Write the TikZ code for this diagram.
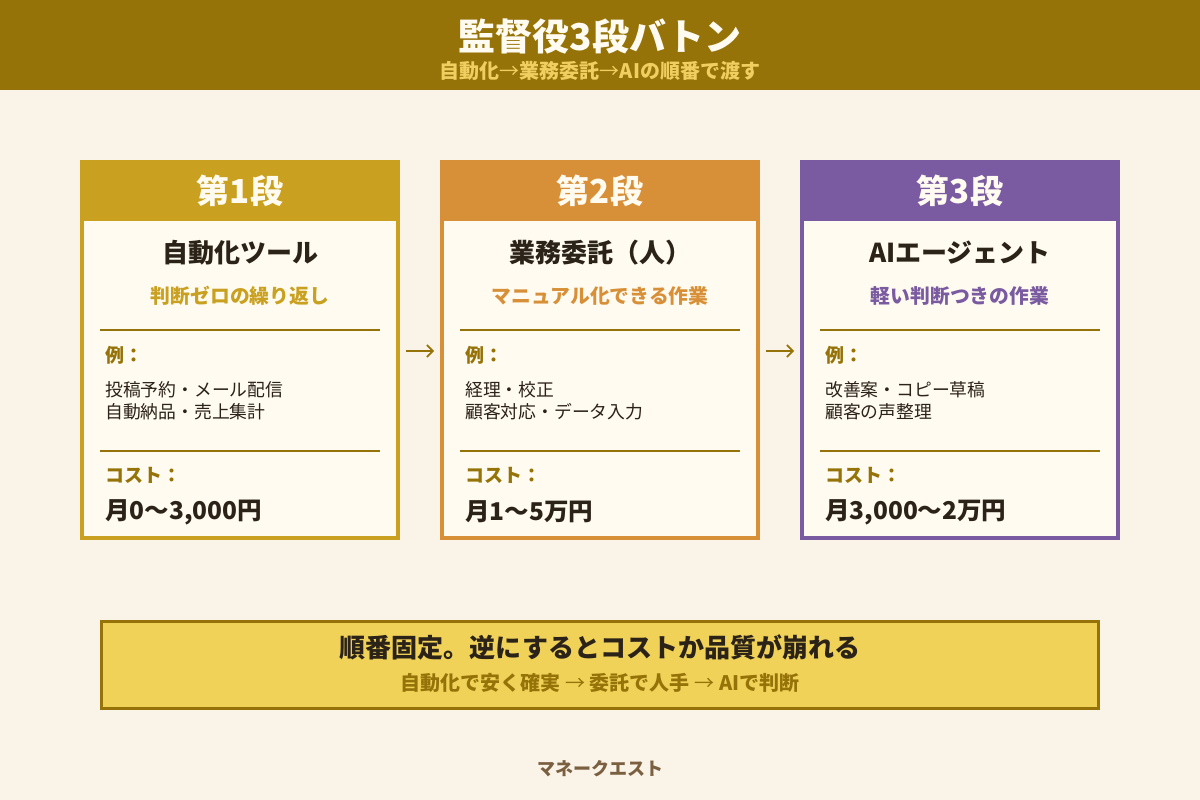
\documentclass[tikz,border=0pt]{standalone}
\usepackage{fontspec}
\setmainfont{Noto Sans CJK JP}
\usetikzlibrary{arrows.meta}

\definecolor{bgcream}{RGB}{250,243,232}
\definecolor{bodycream}{RGB}{255,251,240}
\definecolor{bandgold}{RGB}{149,115,8}
\definecolor{subgold}{RGB}{240,206,96}
\definecolor{stepgold}{RGB}{201,160,32}
\definecolor{steporange}{RGB}{216,144,56}
\definecolor{steppurple}{RGB}{122,90,160}
\definecolor{inkdark}{RGB}{43,34,24}
\definecolor{notebox}{RGB}{240,210,88}
\definecolor{footbrown}{RGB}{122,95,64}

\newcommand{\thinarrow}{{\mdseries →}}

\begin{document}
\begin{tikzpicture}[x=1pt,y=-1pt,
  card/.style={draw, line width=4pt, fill=bodycream, minimum width=316pt, minimum height=376pt, inner sep=0pt},
  cardhead/.style={fill, minimum width=320pt, minimum height=60pt, inner sep=0pt, text=bodycream, font=\fontsize{33}{36}\selectfont\bfseries},
  cardtitle/.style={text=inkdark, font=\fontsize{26}{29}\selectfont\bfseries},
  cardsub/.style={font=\fontsize{19.8}{22}\selectfont\bfseries},
  label/.style={anchor=west, inner sep=0pt, text=bandgold, font=\fontsize{19}{22}\selectfont\bfseries},
  items/.style={anchor=west, inner sep=0pt, align=left, text=inkdark, font=\fontsize{17.8}{22}\selectfont},
  cost/.style={anchor=west, inner sep=0pt, text=inkdark, font=\fontsize{24.5}{27}\selectfont\bfseries},
  sepline/.style={draw=bandgold, line width=2pt},
  baton/.style={draw=bandgold, line width=1.6pt, -{Straight Barb[length=6pt,width=12pt]}, shorten <=6pt, shorten >=6pt}]

\useasboundingbox[fill=bgcream] (0,0) rectangle (1200,800);

% header
\node[fill=bandgold, minimum width=1200pt, minimum height=90pt, inner sep=0pt] (band) at (600,45) {};
\node[text=bodycream, font=\fontsize{37}{40}\selectfont\bfseries] (title) at (600,37) {監督役3段バトン};
\node[text=subgold, font=\fontsize{20}{23}\selectfont\bfseries] (subtitle) at (600,71) {自動化\thinarrow 業務委託\thinarrow AIの順番で渡す};

% step 1
\node[card, draw=stepgold] (c1) at (240,350) {};
\node[cardhead, fill=stepgold] (h1) at (240,191) {第1段};
\node[cardtitle] (t1) at (240,253) {自動化ツール};
\node[cardsub, text=stepgold] (s1) at (240,296) {判断ゼロの繰り返し};
\path[sepline] (100,330) -- (380,330);
\node[label] (e1) at (105,355) {例：};
\node[items] (i1) at (105,401) {投稿予約・メール配信\\自動納品・売上集計};
\path[sepline] (100,451) -- (380,451);
\node[label] (k1) at (105,475) {コスト：};
\node[cost] (p1) at (105,512) {月0〜3,000円};

% step 2
\node[card, draw=steporange] (c2) at (600,350) {};
\node[cardhead, fill=steporange] (h2) at (600,191) {第2段};
\node[cardtitle] (t2) at (600,253) {業務委託（人）};
\node[cardsub, text=steporange] (s2) at (600,296) {マニュアル化できる作業};
\path[sepline] (460,330) -- (740,330);
\node[label] (e2) at (465,355) {例：};
\node[items] (i2) at (465,401) {経理・校正\\顧客対応・データ入力};
\path[sepline] (460,451) -- (740,451);
\node[label] (k2) at (465,475) {コスト：};
\node[cost] (p2) at (465,512) {月1〜5万円};

% step 3
\node[card, draw=steppurple] (c3) at (960,350) {};
\node[cardhead, fill=steppurple] (h3) at (960,191) {第3段};
\node[cardtitle] (t3) at (960,253) {AIエージェント};
\node[cardsub, text=steppurple] (s3) at (960,296) {軽い判断つきの作業};
\path[sepline] (820,330) -- (1100,330);
\node[label] (e3) at (825,355) {例：};
\node[items] (i3) at (825,401) {改善案・コピー草稿\\顧客の声整理};
\path[sepline] (820,451) -- (1100,451);
\node[label] (k3) at (825,475) {コスト：};
\node[cost] (p3) at (825,512) {月3,000〜2万円};

% batons
\path[baton] ([yshift=-1pt]c1.east) -- ([yshift=-1pt]c2.west);
\path[baton] ([yshift=-1pt]c2.east) -- ([yshift=-1pt]c3.west);

% rule box
\node[draw=bandgold, line width=3pt, fill=notebox, minimum width=997pt, minimum height=87pt, inner sep=0pt] (rule) at (600,665) {};
\node[text=inkdark, font=\fontsize{26}{29}\selectfont\bfseries] (rulemain) at (600,647) {順番固定。逆にするとコストか品質が崩れる};
\node[text=bandgold, font=\fontsize{20}{23}\selectfont\bfseries] (rulesub) at (600,683) {自動化で安く確実 \thinarrow{} 委託で人手 \thinarrow{} AIで判断};

% footer
\node[text=footbrown, font=\fontsize{18}{20}\selectfont\bfseries] (brand) at (600,769) {マネークエスト};
\end{tikzpicture}
\end{document}
